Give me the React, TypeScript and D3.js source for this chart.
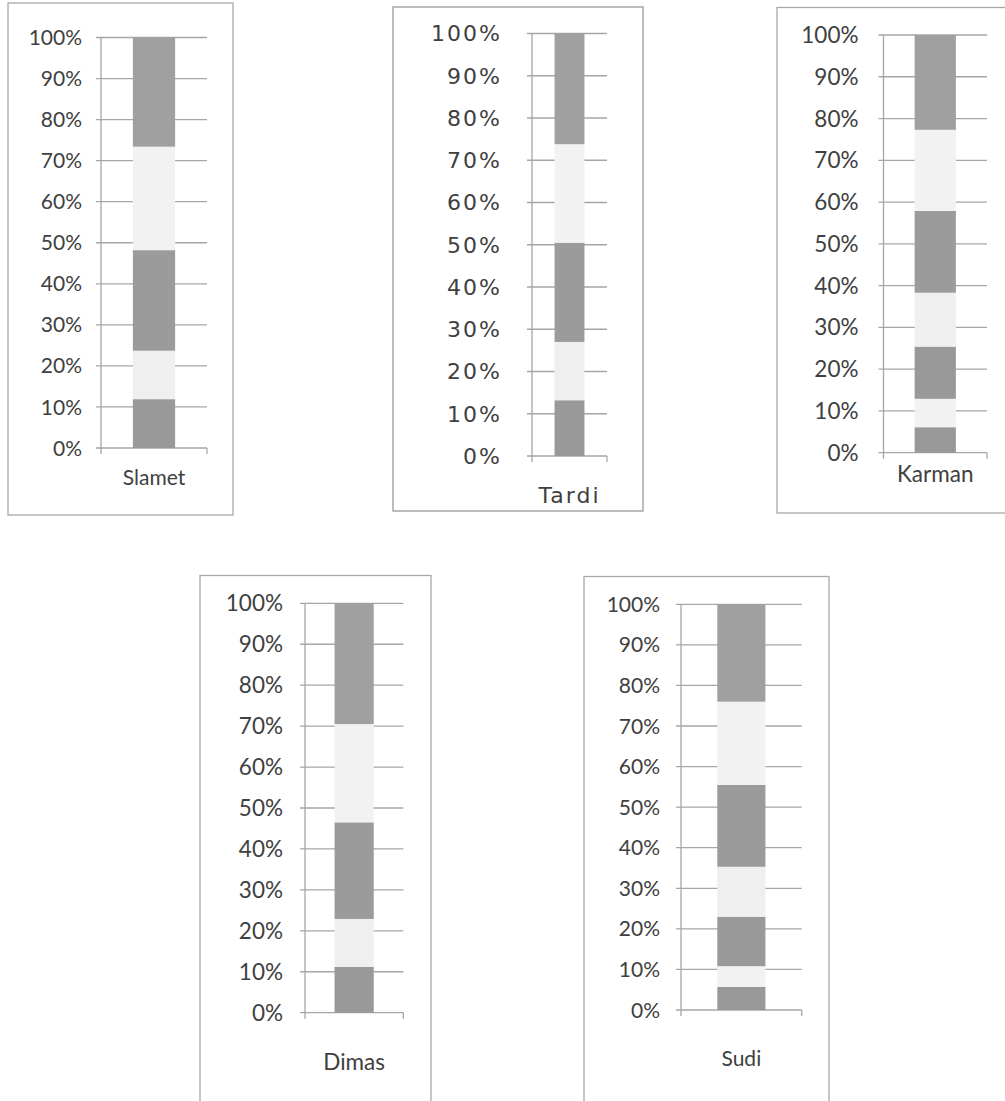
import React from 'react';
import * as d3 from 'd3';

// one 100% stacked column per person, segments bottom -> top (percent)
const names = ['Slamet', 'Tardi', 'Karman', 'Dimas', 'Sudi'];
const seg1 = [0, 0, 6.1, 0, 5.7];
const seg2 = [0, 0, 6.8, 0, 5.1];
const seg3 = [11.9, 13.2, 12.5, 11.2, 12.2];
const seg4 = [11.8, 13.8, 12.9, 11.7, 12.3];
const seg5 = [24.5, 23.5, 19.6, 23.6, 20.2];
const seg6 = [25.2, 23.3, 19.4, 24.0, 20.5];
const seg7 = [26.6, 26.2, 22.7, 29.5, 24.0];
const tickLabels = ['0%', '10%', '20%', '30%', '40%', '50%', '60%', '70%', '80%', '90%', '100%'];

const keys = ['seg1', 'seg2', 'seg3', 'seg4', 'seg5', 'seg6', 'seg7'];
const colors = ['#999999', '#f2f2f2', '#999999', '#efefef', '#9b9b9b', '#f2f2f2', '#a0a0a0'];

const table = names.map((name, i) => ({
  name,
  seg1: seg1[i], seg2: seg2[i], seg3: seg3[i], seg4: seg4[i],
  seg5: seg5[i], seg6: seg6[i], seg7: seg7[i],
}));
const stacked = d3.stack<any>().keys(keys).offset(d3.stackOffsetExpand)(table);

// frame box + plot area of each little chart, in page pixels
const layouts = [
  { frame: [8, 3, 233, 515], plot: [101, 37.5, 207, 448], font: 'Lato, sans-serif', size: 21, ls: 0, lab: 19, catY: 477, border: '#a8a8a8' },
  { frame: [393, 7, 643, 511], plot: [532, 33.5, 607, 456], font: '"DejaVu Sans", sans-serif', size: 22, ls: 2, lab: 30, catY: 495, border: '#999999' },
  { frame: [777, 7.5, 1012, 513], plot: [883.5, 35, 987, 452.7], font: 'Lato, sans-serif', size: 22.5, ls: 0, lab: 25, catY: 474, border: '#a8a8a8' },
  { frame: [200, 575.5, 431, 1110], plot: [305, 603.3, 403.3, 1012.7], font: 'Lato, sans-serif', size: 22.5, ls: 0, lab: 22, catY: 1062, border: '#a8a8a8' },
  { frame: [584, 576.5, 829, 1110], plot: [681, 604.3, 801.7, 1010], font: 'Lato, sans-serif', size: 21, ls: 0, lab: 21, catY: 1058, border: '#a8a8a8' },
];

const gridColor = '#a6a6a6';
const textColor = '#404040';

const Column = ({ idx }: { idx: number }) => {
  const L = layouts[idx];
  const [fx0, fy0, fx1, fy1] = L.frame;
  const [px0, py0, px1, py1] = L.plot;
  const x = d3.scaleBand().domain([names[idx]]).range([px0, px1]).padding(0.43);
  const y = d3.scaleLinear().domain([0, 1]).range([py1, py0]);
  const bx = x(names[idx]) as number;
  const bw = x.bandwidth();
  return (
    <g>
      <rect x={fx0} y={fy0} width={fx1 - fx0} height={fy1 - fy0} fill="none" stroke={L.border} strokeWidth={1.3} />
      {tickLabels.map((t, i) => (
        <line key={'g' + t} x1={px0 - 5} x2={px1} y1={y(i / 10)} y2={y(i / 10)} stroke={gridColor} strokeWidth={1.3} />
      ))}
      {stacked.map((layer, k) => {
        const [a, b] = layer[idx];
        if (b - a <= 0) return null;
        return <rect key={keys[k]} x={bx} width={bw} y={y(b)} height={y(a) - y(b)} fill={colors[k]} />;
      })}
      <line x1={px0} x2={px0} y1={py0} y2={py1 + 6} stroke={gridColor} strokeWidth={1.3} />
      <line x1={px1} x2={px1} y1={py1} y2={py1 + 6} stroke={gridColor} strokeWidth={1.3} />
      {tickLabels.map((t, i) => (
        <text key={'t' + t} x={px0 - L.lab} y={y(i / 10)} dy="0.36em" textAnchor="end"
          fontFamily={L.font} fontSize={L.size} letterSpacing={L.ls} fill={textColor}>{t}</text>
      ))}
      <text x={bx + bw / 2} y={L.catY} dy="0.36em" textAnchor="middle"
        fontFamily={L.font} fontSize={L.size} letterSpacing={L.ls} fill={textColor}>{names[idx]}</text>
    </g>
  );
};

const App = () => {
  const W = 1005;
  const H = 1101;
  return (
    <svg width={W} height={H} style={{ position: 'absolute', left: 0, top: 0, background: '#fff' }}>
      {names.map((n, i) => <Column key={n} idx={i} />)}
    </svg>
  );
};

export default App;
